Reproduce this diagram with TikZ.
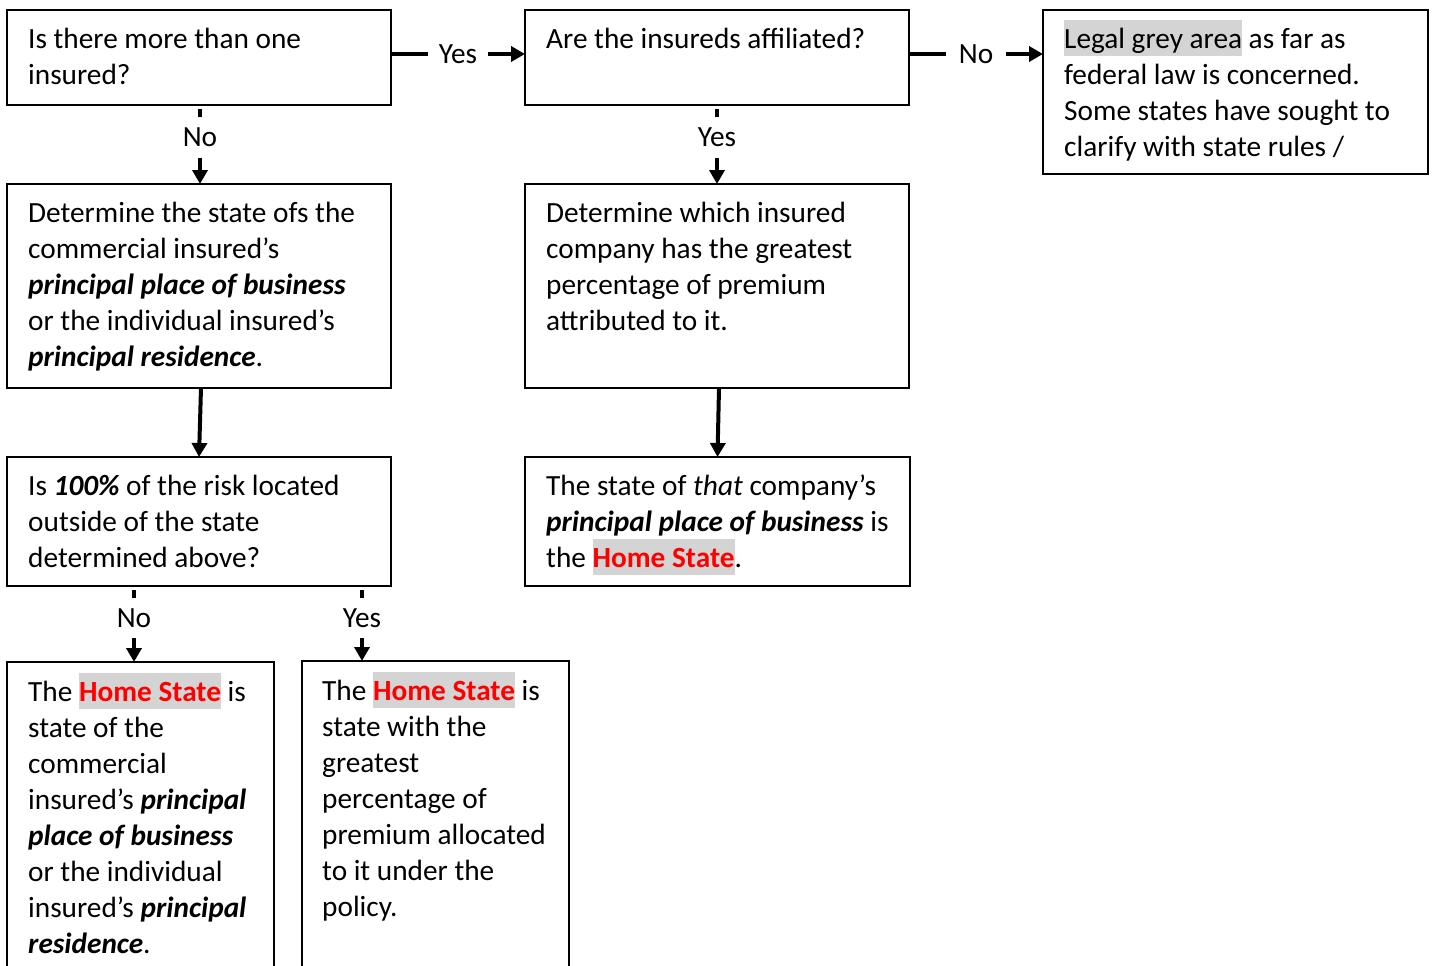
\documentclass[tikz,border=0pt]{standalone}
\usepackage{fontspec}
\setmainfont{Carlito}
\usepackage{xcolor}
\usetikzlibrary{arrows.meta}
\definecolor{hlgray}{HTML}{D4D4D4}
\setlength{\fboxsep}{0pt}
\newcommand{\hlg}[1]{\colorbox{hlgray}{\rule[-8pt]{0pt}{36pt}#1}}
\newcommand{\hst}[1]{\colorbox{hlgray}{\rule[-8pt]{0pt}{36pt}\textcolor{red}{\textbf{#1}}}}
\newcommand{\bi}[1]{\textbf{\textit{#1}}}
\newcommand{\fst}{\rule{0pt}{28pt}}
\begin{document}
\begin{tikzpicture}[x=1pt,y=-1pt,
  box/.style={draw=black,line width=1.8pt,inner sep=0pt,outer sep=0pt,anchor=north west},
  txt/.style={anchor=north west,inner sep=0pt,align=left,font=\fontsize{29.3}{36}\selectfont},
  hlab/.style={inner sep=0pt,minimum width=60pt,minimum height=30pt,font=\fontsize{29.3}{36}\selectfont},
  vlab/.style={inner sep=0pt,minimum width=50pt,minimum height=40pt,font=\fontsize{29.3}{36}\selectfont},
  ln/.style={line width=4pt,draw=black},
  arr/.style={line width=4pt,draw=black,-{Triangle[width=15pt,length=14pt]}}]
\useasboundingbox (0,0) rectangle (1432,966);
\clip (0,0) rectangle (1432,966);
\fill[white] (0,0) rectangle (1432,966);
% boxes
\node[box,minimum width=384pt,minimum height=95pt] (b1) at (7,10) {};
\node[box,minimum width=384pt,minimum height=95pt] (b2) at (525,10) {};
\node[box,minimum width=385pt,minimum height=164pt] (b3) at (1043,10) {};
\node[box,minimum width=384pt,minimum height=204pt] (b4) at (7,184) {};
\node[box,minimum width=384pt,minimum height=204pt] (b5) at (525,184) {};
\node[box,minimum width=384pt,minimum height=129pt] (b6) at (7,457) {};
\node[box,minimum width=385pt,minimum height=129pt] (b7) at (525,457) {};
\node[box,minimum width=267pt,minimum height=400pt] (b8) at (7,662) {};
\node[box,minimum width=267pt,minimum height=400pt] (b9) at (302,661) {};
% texts
\node[txt] (t1) at ([xshift=21pt,yshift=-10pt]b1.north west) {\fst Is there more than one\\ insured?};
\node[txt] (t2) at ([xshift=21pt,yshift=-10pt]b2.north west) {\fst Are the insureds affiliated?};
\node[txt] (t3) at ([xshift=21pt,yshift=-10pt]b3.north west) {\fst\hlg{Legal grey area} as far as\\ federal law is concerned.\\ Some states have sought to\\ clarify with state rules /};
\node[txt] (t4) at ([xshift=21pt,yshift=-10pt]b4.north west) {\fst Determine the state ofs the\\ commercial insured’s\\ \bi{principal place of business}\\ or the individual insured’s\\ \bi{principal residence}.};
\node[txt] (t5) at ([xshift=21pt,yshift=-10pt]b5.north west) {\fst Determine which insured\\ company has the greatest\\ percentage of premium\\ attributed to it.};
\node[txt] (t6) at ([xshift=21pt,yshift=-10pt]b6.north west) {\fst Is \bi{100\%} of the risk located\\ outside of the state\\ determined above?};
\node[txt] (t7) at ([xshift=21pt,yshift=-10pt]b7.north west) {\fst The state of \textit{that} company’s\\ \bi{principal place of business} is\\ the \hst{Home State}.};
\node[txt] (t8) at ([xshift=21pt,yshift=-11pt]b8.north west) {\fst The \hst{Home State} is\\ state of the\\ commercial\\ insured’s \bi{principal}\\ \bi{place of business}\\ or the individual\\ insured’s \bi{principal}\\ \bi{residence}.};
\node[txt] (t9) at ([xshift=20pt,yshift=-11pt]b9.north west) {\fst The \hst{Home State} is\\ state with the\\ greatest\\ percentage of\\ premium allocated\\ to it under the\\ policy.};
% labels
\node[hlab] (l12) at (458,54) {Yes};
\node[hlab] (l23) at (976,54) {No};
\node[vlab] (l14) at (200,137.5) {No};
\node[vlab] (l25) at (717,137.5) {Yes};
\node[vlab] (l68) at (134,618) {No};
\node[vlab] (l69) at (362,618) {Yes};
% connectors
\draw[ln] (b1.east |- l12) -- (l12.west);
\draw[arr] (l12.east) -- (l12 -| b2.west);
\draw[ln] (b2.east |- l23) -- (l23.west);
\draw[arr] (l23.east) -- (l23 -| b3.west);
\draw[ln] ([yshift=-4pt]b1.south -| l14) -- (l14.north);
\draw[arr] (l14.south) -- (l14 |- b4.north);
\draw[ln] ([yshift=-4pt]b2.south -| l25) -- (l25.north);
\draw[arr] (l25.south) -- (l25 |- b5.north);
\draw[arr] ([xshift=2pt]b4.south) -- (b6.north);
\draw[arr] ([xshift=2pt]b5.south) -- (b7.north);
\draw[ln] ([yshift=-4pt]b6.south -| l68) -- (l68.north);
\draw[arr] (l68.south) -- (l68 |- b8.north);
\draw[ln] ([yshift=-4pt]b6.south -| l69) -- (l69.north);
\draw[arr] (l69.south) -- (l69 |- b9.north);
\end{tikzpicture}
\end{document}
